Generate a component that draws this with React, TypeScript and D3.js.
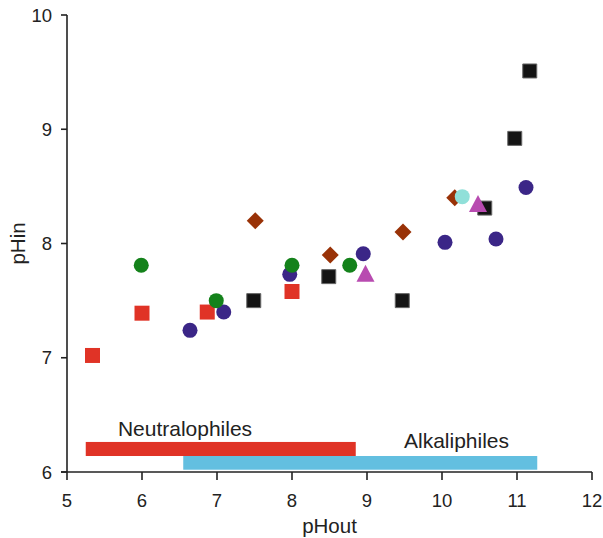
import React from "react";
import * as d3 from "d3";

const W = 603;
const H = 538;

const xTicks = [5, 6, 7, 8, 9, 10, 11, 12];
const yTicks = [6, 7, 8, 9, 10];

const redSqX = [5.34, 6.0, 6.87, 8.0];
const redSqY = [7.02, 7.39, 7.4, 7.58];

const blackSqX = [7.49, 8.49, 9.47, 10.57, 10.97, 11.17];
const blackSqY = [7.5, 7.71, 7.5, 8.31, 8.92, 9.51];

const blueX = [6.64, 7.09, 7.97, 8.95, 10.04, 10.72, 11.12];
const blueY = [7.24, 7.4, 7.73, 7.91, 8.01, 8.04, 8.49];

const greenX = [5.99, 6.99, 8.0, 8.77];
const greenY = [7.81, 7.5, 7.81, 7.81];

const brownX = [7.51, 8.51, 9.48, 10.17];
const brownY = [8.2, 7.9, 8.1, 8.4];

const cyanX = [10.27];
const cyanY = [8.41];

const triX = [8.98, 10.48];
const triY = [7.74, 8.35];

const rangeLabels = ["Neutralophiles", "Alkaliphiles"];
const rangeStart = [5.25, 6.55];
const rangeEnd = [8.85, 11.27];
const rangeLow = [6.14, 6.02];
const rangeHigh = [6.263, 6.14];

const FONT = "'Liberation Sans', Arial, Helvetica, sans-serif";

export default function App() {
  const x = d3.scaleLinear().domain([5, 12]).range([67, 592]);
  const y = d3.scaleLinear().domain([6, 10]).range([472, 15]);
  const axisColor = "#222";

  const square = (cx: number, cy: number, s: number) =>
    `M${cx - s / 2},${cy - s / 2}h${s}v${s}h${-s}Z`;
  const diamond = (cx: number, cy: number, s: number) =>
    `M${cx},${cy - s / 2}L${cx + s / 2},${cy}L${cx},${cy + s / 2}L${cx - s / 2},${cy}Z`;
  const tri = (cx: number, cy: number, w: number, h: number) =>
    `M${cx},${cy - h / 2}L${cx + w / 2},${cy + h / 2}L${cx - w / 2},${cy + h / 2}Z`;

  return (
    <svg
      width={W}
      height={H}
      style={{ position: "absolute", left: 0, top: 0, background: "#fff" }}
      fontFamily={FONT}
    >
      {/* range bars */}
      {rangeLabels.map((lab, i) => (
        <rect
          key={lab}
          x={x(rangeStart[i])}
          y={y(rangeHigh[i])}
          width={x(rangeEnd[i]) - x(rangeStart[i])}
          height={y(rangeLow[i]) - y(rangeHigh[i])}
          fill={i === 0 ? "#e03326" : "#63bfe0"}
        />
      ))}
      <text x={185} y={436} fontSize={21} textAnchor="middle" fill="#222">
        {rangeLabels[0]}
      </text>
      <text x={456.5} y={448} fontSize={21} textAnchor="middle" fill="#222">
        {rangeLabels[1]}
      </text>

      {/* axes */}
      <line x1={x(5)} x2={x(5)} y1={y(10)} y2={y(6)} stroke={axisColor} strokeWidth={1.6} />
      <line x1={x(5) - 6} x2={x(12)} y1={y(6)} y2={y(6)} stroke={axisColor} strokeWidth={1.6} />
      {yTicks.map((t) => (
        <g key={"y" + t}>
          <line x1={x(5) - 6} x2={x(5)} y1={y(t)} y2={y(t)} stroke={axisColor} strokeWidth={1.6} />
          <text x={52} y={y(t)} dy="0.36em" fontSize={18.5} textAnchor="end" fill="#222">
            {t}
          </text>
        </g>
      ))}
      {xTicks.map((t) => (
        <g key={"x" + t}>
          <line x1={x(t)} x2={x(t)} y1={y(6)} y2={y(6) + 8} stroke={axisColor} strokeWidth={1.6} />
          <text x={x(t)} y={507} fontSize={18.5} textAnchor="middle" fill="#222">
            {t}
          </text>
        </g>
      ))}
      <text x={329.5} y={533} fontSize={20.5} textAnchor="middle" fill="#222">
        pHout
      </text>
      <text
        transform={`translate(25,243.5) rotate(-90)`}
        fontSize={20.5}
        textAnchor="middle"
        fill="#222"
      >
        pHin
      </text>

      {/* points */}
      {blackSqX.map((v, i) => (
        <path
          key={"b" + i}
          d={square(x(v), y(blackSqY[i]), 14)}
          fill="#141414"
          stroke="#666"
          strokeWidth={1}
        />
      ))}
      {redSqX.map((v, i) => (
        <path key={"r" + i} d={square(x(v), y(redSqY[i]), 15)} fill="#e03326" />
      ))}
      {blueX.map((v, i) => (
        <circle key={"p" + i} cx={x(v)} cy={y(blueY[i])} r={7.5} fill="#3b2687" />
      ))}
      {greenX.map((v, i) => (
        <circle key={"g" + i} cx={x(v)} cy={y(greenY[i])} r={7.5} fill="#14821b" />
      ))}
      {brownX.map((v, i) => (
        <path key={"d" + i} d={diamond(x(v), y(brownY[i]), 17)} fill="#993207" />
      ))}
      {cyanX.map((v, i) => (
        <circle key={"c" + i} cx={x(v)} cy={y(cyanY[i])} r={7.5} fill="#90e0d9" />
      ))}
      {triX.map((v, i) => (
        <path key={"t" + i} d={tri(x(v), y(triY[i]), 18, 17)} fill="#b84bb0" />
      ))}
    </svg>
  );
}
